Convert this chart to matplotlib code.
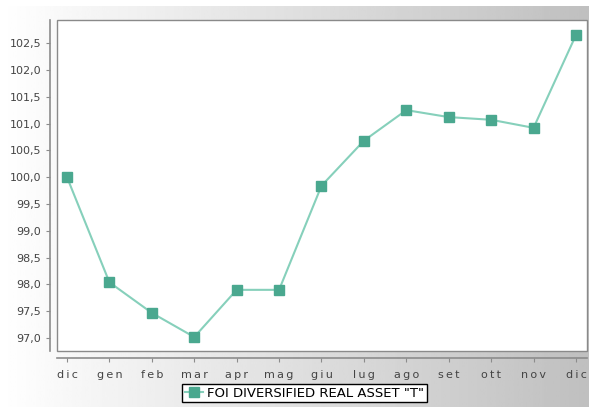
import numpy as np
import matplotlib.pyplot as plt
from matplotlib.patches import Rectangle

months = ["dic", "gen", "feb", "mar", "apr", "mag", "giu", "lug", "ago", "set", "ott", "nov", "dic"]
values = [100.0, 98.04, 97.47, 97.02, 97.9, 97.9, 99.84, 100.68, 101.25, 101.12, 101.07, 100.92, 102.65]
yticks = [97.0, 97.5, 98.0, 98.5, 99.0, 99.5, 100.0, 100.5, 101.0, 101.5, 102.0, 102.5]
series_name = 'FOI DIVERSIFIED REAL ASSET "T"'

W, H = 589, 407
fig = plt.figure(figsize=(W / 100, H / 100), dpi=100)

# sfondo sfumato (bianco -> grigio)
bg = fig.add_axes([0, 0, 1, 1 - 6 / H], zorder=-10)
grad = np.linspace(1.0, 0.75, 256).reshape(1, -1)
bg.imshow(grad, aspect="auto", cmap="gray", vmin=0, vmax=1, extent=[0, 1, 0, 1])
bg.axis("off")

ax = fig.add_axes([57 / W, (H - 351) / H, 530 / W, 331 / H])
ax.set_facecolor("none")
ax.add_patch(Rectangle((0, 0), 1, 1, transform=ax.transAxes, facecolor="white",
                       edgecolor="#8a8a8a", linewidth=1.0, zorder=0, clip_on=False))

x = np.arange(len(months))
ax.plot(x, values, color="#86d0bb", linewidth=1.5, marker="s", markersize=7,
        markerfacecolor="#4aa88f", markeredgecolor="#4aa88f", label=series_name, zorder=3)

ax.set_xlim(-0.236, 12.26)
ax.set_ylim(96.76, 102.93)
ax.set_xticks(x)
ax.set_xticklabels(["\u2009".join(m) for m in months])
ax.set_yticks(yticks)
ax.set_yticklabels([f"{v:.1f}".replace(".", ",") for v in yticks])

for s in ["top", "right"]:
    ax.spines[s].set_visible(False)
for s in ["left", "bottom"]:
    ax.spines[s].set_position(("outward", 5))
    ax.spines[s].set_color("#8c8c8c")
    ax.spines[s].set_linewidth(1.2)
ax.tick_params(axis="both", length=3, color="#8c8c8c", labelsize=8, labelcolor="#444444")
ax.tick_params(axis="x", pad=6)

fig.legend(loc="upper left", bbox_to_anchor=(182 / W, 1 - 384 / H), frameon=True,
           fancybox=False, edgecolor="black", framealpha=1, facecolor="white",
           fontsize=9.5, handlelength=1.4, handletextpad=0.3, borderpad=0.2,
           borderaxespad=0)

fig.savefig("out.png", dpi=100)
